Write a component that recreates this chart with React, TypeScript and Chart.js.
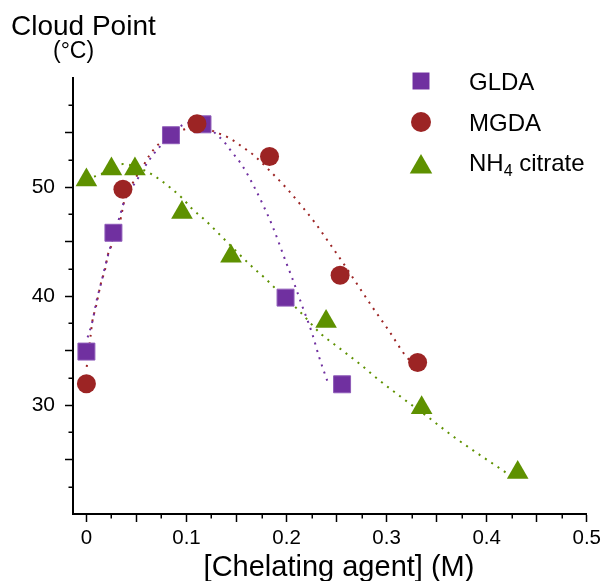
import React, { useEffect, useRef } from 'react';
import { Chart, registerables } from 'chart.js';

Chart.register(...registerables);

const FONT = '"Liberation Sans", Arial, Helvetica, sans-serif';

// Series names
const SERIES = ['GLDA', 'MGDA', 'NH4 citrate'];
const COLORS = ['#7030A0', '#9C2424', '#5E9100'];

// Measured points
const GLDA_X = [0.0, 0.027, 0.0845, 0.116, 0.199, 0.2555];
const GLDA_Y = [34.9, 45.8, 54.75, 55.75, 39.85, 31.9];

const MGDA_X = [0.0, 0.0365, 0.1105, 0.183, 0.2535, 0.331];
const MGDA_Y = [31.95, 49.8, 55.8, 52.8, 41.9, 33.9];

const CIT_X = [0.0, 0.025, 0.0485, 0.0955, 0.1445, 0.2395, 0.335, 0.431];
const CIT_Y = [50.65, 51.65, 51.65, 47.65, 43.65, 37.65, 29.75, 23.8];

// Dotted trend curves
const GLDA_FIT_X = [0.0012, 0.0058, 0.0105, 0.0142, 0.0179, 0.0215, 0.0336, 0.0382, 0.0502, 0.0622, 0.0724, 0.0964, 0.1121, 0.1315, 0.137, 0.1463, 0.1555, 0.1666, 0.1768, 0.186, 0.1999, 0.2054, 0.2156, 0.2258, 0.2322, 0.2396, 0.2424];
const GLDA_FIT_Y = [36.2, 37.6, 39.7, 41.0, 42.4, 43.7, 47.4, 48.8, 50.6, 52.4, 53.6, 55.7, 56.0, 54.7, 54.2, 53.1, 52.0, 50.2, 48.3, 46.4, 43.0, 41.7, 39.1, 36.5, 34.5, 32.5, 31.8];

const MGDA_FIT_X = [0.0003, 0.004, 0.0058, 0.0095, 0.0142, 0.0188, 0.0215, 0.0243, 0.0345, 0.0373, 0.0465, 0.0585, 0.0622, 0.0724, 0.0982, 0.1139, 0.1287, 0.1426, 0.1555, 0.1675, 0.1842, 0.1999, 0.2147, 0.2294, 0.2424, 0.2553, 0.2683, 0.2849, 0.3024, 0.32, 0.3302];
const MGDA_FIT_Y = [33.5, 36.2, 37.6, 39.0, 41.05, 42.5, 43.8, 44.45, 47.2, 48.5, 50.4, 52.2, 52.8, 53.95, 55.3, 55.6, 55.05, 54.5, 53.7, 52.9, 51.4, 49.9, 48.3, 46.6, 44.9, 43.2, 41.4, 39.1, 36.8, 34.4, 33.6];

const CIT_FIT_X = [0.0, 0.0095, 0.0363, 0.0585, 0.0714, 0.0844, 0.0955, 0.1056, 0.1176, 0.1287, 0.1389, 0.1666, 0.1777, 0.1888, 0.2119, 0.2341, 0.2516, 0.2747, 0.2923, 0.3163, 0.3413, 0.3653, 0.3902, 0.4161, 0.4253];
const CIT_FIT_Y = [50.9, 51.0, 52.1, 51.5, 50.8, 49.9, 49.0, 48.0, 47.05, 46.05, 45.1, 42.6, 41.7, 40.7, 38.7, 36.55, 35.3, 33.65, 32.3, 30.6, 28.9, 27.2, 25.6, 24.0, 23.4];

// Axes
const X_MAJOR = [0, 0.05, 0.1, 0.15, 0.2, 0.25, 0.3, 0.35, 0.4, 0.45, 0.5];
const X_MINOR = [0.025, 0.075, 0.125, 0.175, 0.225, 0.275, 0.325, 0.375, 0.425, 0.475];
const X_LABELS = ['0', '0.1', '0.2', '0.3', '0.4', '0.5'];
const Y_MAJOR = [25, 30, 35, 40, 45, 50, 55];
const Y_MINOR = [22.5, 27.5, 32.5, 37.5, 42.5, 47.5, 52.5, 57.5];
const Y_LABELS = ['30', '40', '50'];

const Y_TITLE = 'Cloud Point';
const Y_UNIT = '(°C)';
const X_TITLE = '[Chelating agent] (M)';

const pts = (xs: number[], ys: number[]) => xs.map((x, i) => ({ x, y: ys[i] }));

function drawMarker(ctx: CanvasRenderingContext2D, kind: string, x: number, y: number, r: number, color: string) {
  ctx.save();
  ctx.fillStyle = color;
  ctx.beginPath();
  if (kind === 'rect') {
    const h = r * Math.SQRT1_2;
    ctx.rect(x - h, y - h, 2 * h, 2 * h);
  } else if (kind === 'circle') {
    ctx.arc(x, y, r, 0, Math.PI * 2);
  } else {
    for (let k = 0; k < 3; k++) {
      const a = (k * 2 * Math.PI) / 3;
      const px = x + Math.sin(a) * r;
      const py = y - Math.cos(a) * r;
      if (k === 0) ctx.moveTo(px, py);
      else ctx.lineTo(px, py);
    }
    ctx.closePath();
  }
  ctx.fill();
  ctx.restore();
}

const decorPlugin = {
  id: 'decor',
  afterDraw(chart: any) {
    const ctx: CanvasRenderingContext2D = chart.ctx;
    const xs = chart.scales.x;
    const ys = chart.scales.y;
    const area = chart.chartArea;
    ctx.save();
    ctx.strokeStyle = '#000';
    ctx.lineWidth = 1.5;
    ctx.beginPath();
    X_MINOR.forEach((v) => {
      const p = Math.round(xs.getPixelForValue(v)) + 0.25;
      ctx.moveTo(p, area.bottom);
      ctx.lineTo(p, area.bottom + 4.5);
    });
    Y_MINOR.forEach((v) => {
      const p = Math.round(ys.getPixelForValue(v)) + 0.25;
      ctx.moveTo(area.left - 4.5, p);
      ctx.lineTo(area.left, p);
    });
    ctx.stroke();

    ctx.fillStyle = '#000';
    ctx.textBaseline = 'alphabetic';
    ctx.textAlign = 'left';
    ctx.font = `28px ${FONT}`;
    ctx.fillText(Y_TITLE, 11, 35);
    ctx.font = `23px ${FONT}`;
    ctx.fillText(Y_UNIT, 53, 58);

    ctx.textAlign = 'center';
    ctx.font = `29px ${FONT}`;
    ctx.fillText(X_TITLE, 339, 576);

    // legend
    const kinds = ['rect', 'circle', 'triangle'];
    const radii = [12, 10, 13];
    const my = [81, 122, 167];
    const ty = [90, 131, 171];
    ctx.textAlign = 'left';
    SERIES.forEach((name, i) => {
      drawMarker(ctx, kinds[i], 421, my[i], radii[i], COLORS[i]);
      ctx.fillStyle = '#000';
      ctx.font = `24px ${FONT}`;
      const m = name.match(/^(NH)(4)( .*)$/);
      if (m) {
        let x = 469;
        ctx.fillText(m[1], x, ty[i]);
        x += ctx.measureText(m[1]).width;
        ctx.font = `16px ${FONT}`;
        ctx.fillText(m[2], x, ty[i] + 5);
        x += ctx.measureText(m[2]).width;
        ctx.font = `24px ${FONT}`;
        ctx.fillText(m[3], x, ty[i]);
      } else {
        ctx.fillText(name, 469, ty[i]);
      }
    });
    ctx.restore();
  },
};

export default function App() {
  const ref = useRef<HTMLCanvasElement>(null);
  useEffect(() => {
    const fit = (color: string, data: any[]) => ({
      data,
      showLine: true,
      borderColor: color,
      borderWidth: 2,
      borderDash: [2, 5.6],
      pointRadius: 0,
      cubicInterpolationMode: 'monotone',
      fill: false,
      order: 10,
    });
    const chart = new Chart(ref.current as HTMLCanvasElement, {
      type: 'scatter',
      data: {
        datasets: [
          { label: SERIES[0] + ' fit', ...fit(COLORS[0], pts(GLDA_FIT_X, GLDA_FIT_Y)) },
          { label: SERIES[1] + ' fit', ...fit(COLORS[1], pts(MGDA_FIT_X, MGDA_FIT_Y)) },
          { label: SERIES[2] + ' fit', ...fit(COLORS[2], pts(CIT_FIT_X, CIT_FIT_Y)) },
          {
            label: SERIES[0],
            data: pts(GLDA_X, GLDA_Y),
            pointStyle: 'rect',
            pointRadius: 12,
            backgroundColor: COLORS[0],
            borderColor: '#8e5bb8',
            borderWidth: 1,
            order: 3,
          },
          {
            label: SERIES[2],
            data: pts(CIT_X, CIT_Y),
            pointStyle: 'triangle',
            pointRadius: 12.5,
            backgroundColor: COLORS[2],
            borderColor: COLORS[2],
            borderWidth: 0,
            order: 2,
          },
          {
            label: SERIES[1],
            data: pts(MGDA_X, MGDA_Y),
            pointStyle: 'circle',
            pointRadius: 9.5,
            backgroundColor: COLORS[1],
            borderColor: COLORS[1],
            borderWidth: 0,
            order: 1,
          },
        ],
      } as any,
      options: {
        animation: false,
        responsive: false,
        maintainAspectRatio: false,
        layout: { padding: { top: 78, right: 18, left: 0, bottom: 0 } },
        plugins: { legend: { display: false }, tooltip: { enabled: false } },
        scales: {
          x: {
            type: 'linear',
            min: -0.0134,
            max: 0.5,
            afterBuildTicks: (s: any) => {
              s.ticks = X_MAJOR.map((v) => ({ value: v }));
            },
            afterFit: (s: any) => {
              s.height = 67;
            },
            ticks: {
              autoSkip: false,
              maxRotation: 0,
              padding: 4,
              color: '#000',
              font: { size: 20.5, family: FONT },
              callback: (v: any) => {
                const lab = X_LABELS.find((l) => Math.abs(parseFloat(l) - Number(v)) < 1e-9);
                return lab === undefined ? '' : lab;
              },
            },
            grid: {
              display: true,
              drawOnChartArea: false,
              drawTicks: true,
              tickLength: 8,
              tickWidth: 1.5,
              tickColor: '#000',
            },
            border: { display: true, color: '#000', width: 2 },
          },
          y: {
            type: 'linear',
            min: 20,
            max: 60,
            afterBuildTicks: (s: any) => {
              s.ticks = Y_MAJOR.map((v) => ({ value: v }));
            },
            afterFit: (s: any) => {
              s.width = 73;
            },
            ticks: {
              autoSkip: false,
              padding: 10,
              color: '#000',
              font: { size: 21, family: FONT },
              callback: (v: any) => {
                const lab = Y_LABELS.find((l) => Math.abs(parseFloat(l) - Number(v)) < 1e-9);
                return lab === undefined ? '' : lab;
              },
            },
            grid: {
              display: true,
              drawOnChartArea: false,
              drawTicks: true,
              tickLength: 8,
              tickWidth: 1.5,
              tickColor: '#000',
            },
            border: { display: true, color: '#000', width: 2 },
          },
        },
      } as any,
      plugins: [decorPlugin],
    });
    return () => chart.destroy();
  }, []);
  return (
    <div style={{ position: 'fixed', left: 0, top: 0, width: 605, height: 581, background: '#fff' }}>
      <canvas ref={ref} width={605} height={581} style={{ width: 605, height: 581, display: 'block' }} />
    </div>
  );
}
